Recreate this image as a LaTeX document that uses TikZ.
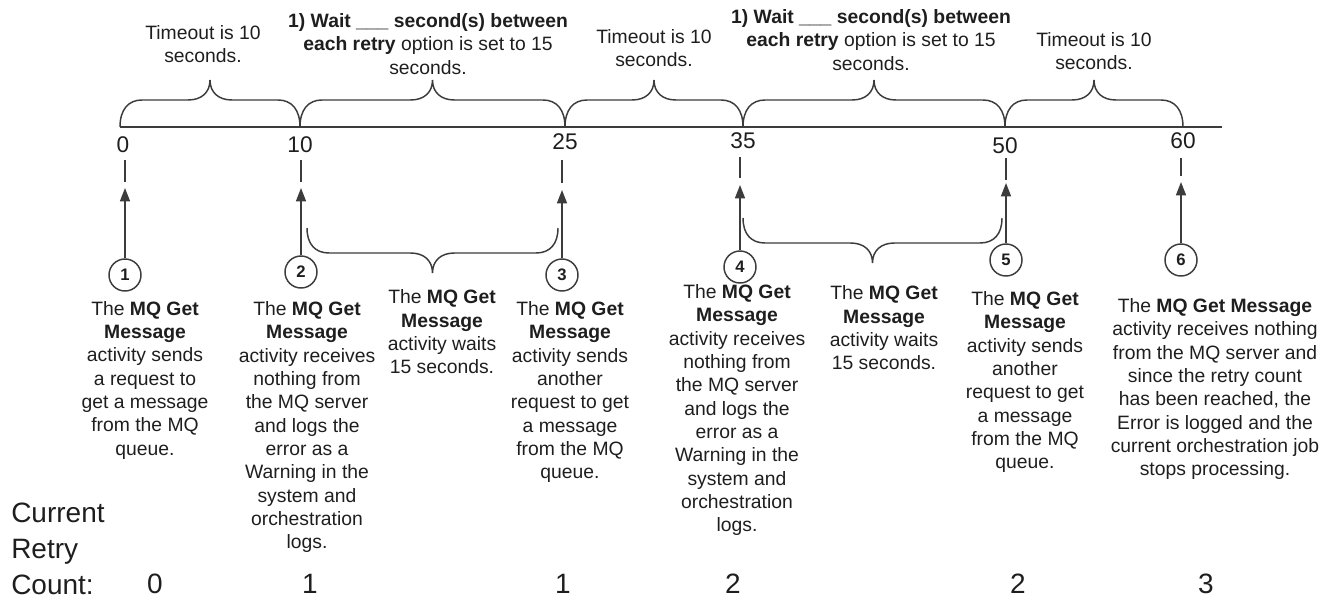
\documentclass[tikz,border=0pt]{standalone}
\usepackage{fontspec}
\setmainfont{Liberation Sans}
\usetikzlibrary{arrows.meta,calc}
\definecolor{inkGray}{HTML}{1E1E1E}
\definecolor{lineGray}{HTML}{3C3C3C}

\begin{document}
\begin{tikzpicture}[x=0.75pt, y=-0.75pt,
    every node/.style={font=\fontsize{14.5}{17.5}\selectfont, text=inkGray, inner sep=0pt},
    note/.style={align=center},
    ticknum/.style={font=\fontsize{17}{20}\selectfont},
    retry/.style={font=\fontsize{21}{27}\selectfont},
    stepcirc/.style={circle, draw=lineGray, line width=1.1pt, minimum size=24pt, font=\fontsize{12.5}{14}\selectfont\bfseries},
    brc/.style={lineGray, line width=1.1pt},
    evarrow/.style={lineGray, line width=1.1pt, -{Triangle[width=7.5pt,length=10pt]}}]
    \useasboundingbox (0,0) rectangle (1338,600);

    % time axis
    \coordinate (ax0) at (120,127);
    \coordinate (ax1) at (1222,127);
    \draw[lineGray, line width=1.5pt] (ax0) -- (ax1);
    \foreach \n/\x in {0/120, 10/300, 25/565, 35/743, 50/1005, 60/1183}
      \coordinate (t\n) at (\x,127);

    % braces over the axis
    \foreach \a/\b in {t0/t10, t10/t25, t25/t35, t35/t50, t50/t60}
      \draw[brc] (\a) .. controls +(0,-17) and +(-14,0) .. ($(\a)+(22,-27)$)
        -- ($(\a)!0.5!(\b)+(-22,-27)$) .. controls +(14,0) and +(0,12) .. ($(\a)!0.5!(\b)+(0,-47)$)
        .. controls +(0,12) and +(-14,0) .. ($(\a)!0.5!(\b)+(22,-27)$)
        -- ($(\b)+(-22,-27)$) .. controls +(14,0) and +(0,-17) .. (\b);

    \node[note] (span1) at (203,44) {Timeout is 10\\seconds.};
    \node[note] (span2) at (428,44) {\textbf{1) Wait \_\_\_ second(s) between}\\\textbf{each retry} option is set to 15\\seconds.};
    \node[note] (span3) at (654,48) {Timeout is 10\\seconds.};
    \node[note] (span4) at (871,40) {\textbf{1) Wait \_\_\_ second(s) between}\\\textbf{each retry} option is set to 15\\seconds.};
    \node[note] (span5) at (1094,51) {Timeout is 10\\seconds.};

    % seconds
    \node[ticknum] (n0) at (123,145) {0};
    \node[ticknum] (n10) at (300,145) {10};
    \node[ticknum] (n25) at (565,142) {25};
    \node[ticknum] (n35) at (743,141) {35};
    \node[ticknum] (n50) at (1005,146) {50};
    \node[ticknum] (n60) at (1183,141) {60};

    % steps
    \foreach \i/\x/\yd/\ye/\yt/\yc in {1/125/160/182/188/275, 2/301/160/182/188/272, 3/562/160/183/190/275,
        4/740/157/178/185/267, 5/1006/158/180/183/260, 6/1181/158/176/182/260} {
      \coordinate (d\i) at (\x,\yd);
      \coordinate (e\i) at (\x,\ye);
      \coordinate (tip\i) at (\x,\yt);
      \node[stepcirc] (c\i) at (\x,\yc) {\i};
      \draw[brc] (d\i) -- (e\i);
      \draw[evarrow] (c\i) -- (tip\i);
    }

    % waiting braces
    \coordinate (w1a) at (307,228);
    \coordinate (w1b) at (558,228);
    \coordinate (w2a) at (743,218);
    \coordinate (w2b) at (1002,218);
    \foreach \a/\b in {w1a/w1b, w2a/w2b}
      \draw[brc] (\a) .. controls +(0,16) and +(-14,0) .. ($(\a)+(22,25)$)
        -- ($(\a)!0.5!(\b)+(-22,25)$) .. controls +(14,0) and +(0,-12) .. ($(\a)!0.5!(\b)+(0,45)$)
        .. controls +(0,-12) and +(-14,0) .. ($(\a)!0.5!(\b)+(22,25)$)
        -- ($(\b)+(-22,25)$) .. controls +(14,0) and +(0,16) .. (\b);

    \node[note] (wait1) at (442,332) {The \textbf{MQ Get}\\\textbf{Message}\\activity waits\\15 seconds.};
    \node[note] (wait2) at (884,328) {The \textbf{MQ Get}\\\textbf{Message}\\activity waits\\15 seconds.};

    % what happens at each step
    \node[note] (txt1) at (145,380) {The \textbf{MQ Get}\\\textbf{Message}\\activity sends\\a request to\\get a message\\from the MQ\\queue.};
    \node[note] (txt2) at (307,427) {The \textbf{MQ Get}\\\textbf{Message}\\activity receives\\nothing from\\the MQ server\\and logs the\\error as a\\Warning in the\\system and\\orchestration\\logs.};
    \node[note] (txt3) at (570,392) {The \textbf{MQ Get}\\\textbf{Message}\\activity sends\\another\\request to get\\a message\\from the MQ\\queue.};
    \node[note] (txt4) at (737,410) {The \textbf{MQ Get}\\\textbf{Message}\\activity receives\\nothing from\\the MQ server\\and logs the\\error as a\\Warning in the\\system and\\orchestration\\logs.};
    \node[note] (txt5) at (1025,382) {The \textbf{MQ Get}\\\textbf{Message}\\activity sends\\another\\request to get\\a message\\from the MQ\\queue.};
    \node[note] (txt6) at (1215,389) {The \textbf{MQ Get Message}\\activity receives nothing\\from the MQ server and\\since the retry count\\has been reached, the\\Error is logged and the\\current orchestration job\\stops processing.};

    % retry counter
    \node[retry, align=left, anchor=west] (count) at (11,549) {Current\\Retry\\Count:};
    \foreach \i/\x/\v in {1/155/0, 2/310/1, 3/563/1, 4/733/2, 5/1018/2, 6/1206/3}
      \node[retry] (r\i) at (\x,584) {\v};
\end{tikzpicture}
\end{document}
